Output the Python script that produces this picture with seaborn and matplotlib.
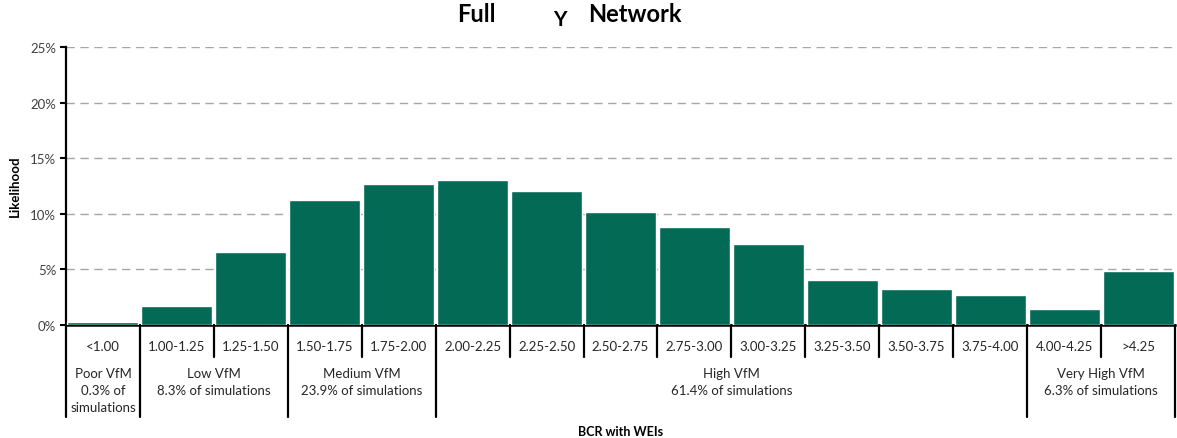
import matplotlib
matplotlib.use("Agg")
import matplotlib.pyplot as plt
import matplotlib.transforms as mtransforms
import seaborn as sns
import pandas as pd

categories = ["<1.00", "1.00-1.25", "1.25-1.50", "1.50-1.75", "1.75-2.00",
              "2.00-2.25", "2.25-2.50", "2.50-2.75", "2.75-3.00", "3.00-3.25",
              "3.25-3.50", "3.50-3.75", "3.75-4.00", "4.00-4.25", ">4.25"]
likelihood = [0.25, 1.7, 6.55, 11.2, 12.65, 13.05, 12.05, 10.15, 8.8, 7.25,
              4.05, 3.2, 2.7, 1.45, 4.85]
group_labels = ["Poor VfM\n0.3% of\nsimulations", "Low VfM\n8.3% of simulations",
                "Medium VfM\n23.9% of simulations", "High VfM\n61.4% of simulations",
                "Very High VfM\n6.3% of simulations"]
group_bounds = [(0, 1), (1, 3), (3, 5), (5, 13), (13, 15)]
y_ticks = [0, 5, 10, 15, 20, 25]

sns.set_theme(style="white")
plt.rcParams["font.family"] = ["Lato", "DejaVu Sans"]

df = pd.DataFrame({"cat": categories, "val": likelihood})

fig = plt.figure(figsize=(11.77, 4.39), dpi=100)
ax = fig.add_axes([66/1177, 1-326/439, (1175-66)/1177, (326-48)/439])

sns.barplot(data=df, x="cat", y="val", color="#036B55", saturation=1,
            width=0.96, ax=ax, zorder=3)

ax.set_ylim(0, 25)
ax.set_xlim(-0.5, len(categories)-0.5)
ax.set_yticks(y_ticks)
ax.set_yticklabels([f"{t}%" for t in y_ticks], fontsize=9.5, color="#404040")
for t in y_ticks[1:]:
    ax.axhline(t, color="#A6A6A6", lw=1, ls=(0, (6, 4)), zorder=1)

ax.set_xticks(range(len(categories)))
ax.set_xticklabels(categories, fontsize=9.5, color="#262626")
ax.tick_params(axis="x", length=0, pad=11)
ax.tick_params(axis="y", length=4, width=1.5, direction="out", color="black", left=True, pad=3)

for s in ["top", "right"]:
    ax.spines[s].set_visible(False)
ax.spines["left"].set_color("black")
ax.spines["left"].set_linewidth(1.6)
ax.spines["bottom"].set_color("black")
ax.spines["bottom"].set_linewidth(1.8)

trans = mtransforms.blended_transform_factory(ax.transData, ax.transAxes)
short_y = (326-358)/278
long_y = (326-418)/278
boundaries = sorted({b for g in group_bounds for b in g})
for i in range(len(categories)+1):
    xpos = i - 0.5
    yb = long_y if i in boundaries else short_y
    ax.plot([xpos, xpos], [0, yb], color="black", lw=1.6, transform=trans,
            clip_on=False, zorder=5)

for (a, b), lab in zip(group_bounds, group_labels):
    xc = (a + b - 1) / 2
    ax.text(xc, (326-368)/278, lab, transform=trans, ha="center", va="top",
            fontsize=9.5, color="#262626", linespacing=1.5)

ax.set_xlabel("")
ax.set_ylabel("")
fig.text(621/1177, 1-432/439, "BCR with WEIs", ha="center", va="center",
         fontsize=9, fontweight="bold", color="black")
fig.text(15/1177, 1-186/439, "Likelihood", ha="center", va="center",
         rotation=90, fontsize=9.5, fontweight="bold", color="black")

fig.text(476/1177, 1-15/439, "Full", ha="center", va="center", fontsize=17,
         fontweight="bold", color="black")
fig.text(560/1177, 1-20/439, "Y", ha="center", va="center", fontsize=15,
         fontweight="bold", color="black")
fig.text(635/1177, 1-15/439, "Network", ha="center", va="center", fontsize=17,
         fontweight="bold", color="black")

fig.savefig("out.png", dpi=100)
